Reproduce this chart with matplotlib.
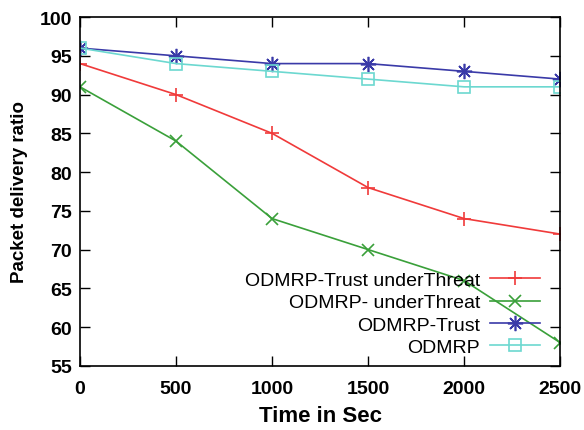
import matplotlib.pyplot as plt

# data
time_sec = [0, 500, 1000, 1500, 2000, 2500]
trust_threat = [94, 90, 85, 78, 74, 72]
odmrp_threat = [91, 84, 74, 70, 66, 58]
trust = [96, 95, 94, 94, 93, 92]
odmrp = [96, 94, 93, 92, 91, 91]

plt.rcParams['font.family'] = ['Liberation Sans', 'DejaVu Sans']

fig = plt.figure(figsize=(5.84, 4.31), dpi=100)
ax = fig.add_axes([0.137, 0.149, 0.822, 0.809])

ax.plot(time_sec, trust_threat, color="#f03a3a", marker="+", ms=10, mew=1.2, lw=1.2,
        label="ODMRP-Trust underThreat")
ax.plot(time_sec, odmrp_threat, color="#3aa03a", marker="x", ms=9, mew=1.2, lw=1.2,
        label="ODMRP- underThreat")
ax.plot(time_sec, trust, color="#3a3aa8", marker=(8, 2, 0), ms=11, mew=1.2, lw=1.2,
        label="ODMRP-Trust")
ax.plot(time_sec, odmrp, color="#6cd8d0", marker="s", ms=8, mew=1.2, mfc="none", lw=1.2,
        label="ODMRP")

ax.set_xlim(0, 2500)
ax.set_ylim(55, 100)
ax.set_xticks(range(0, 2501, 500))
ax.set_yticks(range(55, 101, 5))
ax.tick_params(direction="in", length=7, width=1, top=True, right=True,
               labelsize=14, pad=6)
ax.tick_params(axis="x", pad=10)
for lab in ax.get_xticklabels() + ax.get_yticklabels():
    lab.set_fontweight("bold")
for s in ax.spines.values():
    s.set_linewidth(1.2)

ax.set_xlabel("Time in Sec", fontsize=16, fontweight="bold", labelpad=6)
ax.set_ylabel("Packet delivery ratio", fontsize=13.5, fontweight="bold", labelpad=8)

leg = ax.legend(loc="lower right", bbox_to_anchor=(0.975, 0.005), frameon=False,
                markerfirst=False, fontsize=14, handlelength=2.6,
                labelspacing=0.25, handletextpad=0.5, borderaxespad=0)
for t in leg.get_texts():
    t.set_ha("right")
leg._legend_box.align = "right"

fig.savefig("out.png", dpi=100)
